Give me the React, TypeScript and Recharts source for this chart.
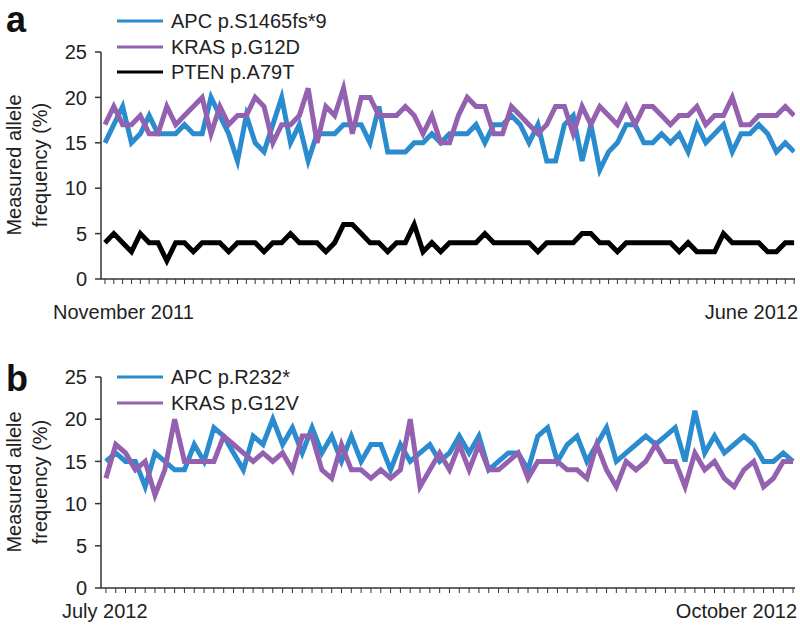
import React from 'react';
import { LineChart, Line, XAxis, YAxis } from 'recharts';

// ---- Panel a data (weekly measurements, Nov 2011 -> Jun 2012) ----
const apcA = [15,17,19,15,16,18,16,16,16,17,16,16,20,18,16,13,18,15,14,17,20,15,17,13,16,16,16,17,17,17,15,19,14,14,14,15,15,16,15,16,16,16,17,15,17,17,18,17,15,17,13,13,17,18,13,17,12,14,15,17,17,15,15,16,15,16,14,17,15,16,17,14,16,16,17,16,14,15,14];
const krasA = [17,19,17,17,18,16,16,19,17,18,19,20,16,19,17,18,18,20,19,15,17,17,18,21,15,19,18,21,16,20,20,18,18,18,19,18,16,18,15,15,18,20,19,19,16,16,19,18,17,16,17,19,19,16,19,17,19,18,17,19,17,19,19,18,17,18,18,19,17,18,18,20,17,17,18,18,18,19,18];
const ptenA = [4,5,4,3,5,4,4,2,4,4,3,4,4,4,3,4,4,4,3,4,4,5,4,4,4,3,4,6,6,5,4,4,3,4,4,6,3,4,3,4,4,4,4,5,4,4,4,4,4,3,4,4,4,4,5,5,4,4,3,4,4,4,4,4,4,3,4,3,3,3,5,4,4,4,4,3,3,4,4];

// ---- Panel b data (Jul 2012 -> Oct 2012) ----
const apcB = [15,16,15,15,12,16,15,14,14,17,15,19,18,16,14,18,17,20,17,19,16,19,16,18,15,18,15,17,17,14,17,15,16,17,15,16,18,16,18,14,15,16,16,14,18,19,15,17,18,15,17,19,15,16,17,18,17,18,19,15,21,16,18,16,17,18,17,15,15,16,15];
const krasB = [13,17,16,14,15,11,14,20,15,15,15,15,18,17,16,15,16,15,16,14,18,18,14,13,17,14,14,13,14,13,14,20,12,14,16,14,17,14,17,14,14,15,16,13,15,15,15,14,14,13,17,14,12,15,14,15,17,15,15,12,16,14,15,13,12,14,15,12,13,15,15];

const yTicks = [0, 5, 10, 15, 20, 25];
const xLabelsA = ['November 2011', 'June 2012'];
const xLabelsB = ['July 2012', 'October 2012'];
const yTitle = ['Measured allele', 'frequency (%)'];

const BLUE = '#2a8ccf';
const PURPLE = '#9461b0';
const BLACK = '#000000';
const AXIS = '#333333';
const FONT = '"Liberation Sans", Arial, Helvetica, sans-serif';

const seriesA = [
  { key: 'apc', name: 'APC p.S1465fs*9', color: BLUE },
  { key: 'kras', name: 'KRAS p.G12D', color: PURPLE },
  { key: 'pten', name: 'PTEN p.A79T', color: BLACK },
];
const seriesB = [
  { key: 'apc', name: 'APC p.R232*', color: BLUE },
  { key: 'kras', name: 'KRAS p.G12V', color: PURPLE },
];

const dataA = apcA.map((v, i) => ({ i, apc: v, kras: krasA[i], pten: ptenA[i] }));
const dataB = apcB.map((v, i) => ({ i, apc: v, kras: krasB[i] }));
const ticksA = dataA.map((d) => d.i);
const ticksB = dataB.map((d) => d.i);

function makeTick(labels: string[], lastIndex: number, dy: number, startShift: number, endShift: number) {
  return (props: any) => {
    const { x, y, payload } = props;
    if (payload.value === 0) {
      return (
        <text x={x + startShift} y={y + dy} textAnchor="start" fontSize={20} fill="#222" fontFamily={FONT}>
          {labels[0]}
        </text>
      );
    }
    if (payload.value === lastIndex) {
      return (
        <text x={x + endShift} y={y + dy} textAnchor="end" fontSize={20} fill="#222" fontFamily={FONT}>
          {labels[1]}
        </text>
      );
    }
    return <g />;
  };
}

function LegendBlock({ series, top }: { series: { key: string; name: string; color: string }[]; top: number }) {
  return (
    <>
      {series.map((s, k) => (
        <div
          key={s.key}
          style={{ position: 'absolute', left: 117, top: top + k * 25.5 - 12, height: 24, display: 'flex', alignItems: 'center' }}
        >
          <svg width={46} height={6} style={{ display: 'block' }}>
            <line x1={0} y1={3} x2={46} y2={3} stroke={s.color} strokeWidth={3} />
          </svg>
          <span style={{ marginLeft: 8, fontSize: 20, color: '#222', whiteSpace: 'nowrap', lineHeight: '24px' }}>{s.name}</span>
        </div>
      ))}
    </>
  );
}

function YTitle({ cy }: { cy: number }) {
  return (
    <div
      style={{
        position: 'absolute',
        left: 27,
        top: cy,
        transform: 'translate(-50%, -50%) rotate(-90deg)',
        fontSize: 20,
        lineHeight: '26px',
        textAlign: 'center',
        whiteSpace: 'nowrap',
        color: '#222',
      }}
    >
      {yTitle[0]}
      <br />
      {yTitle[1]}
    </div>
  );
}

export default function App() {
  return (
    <div style={{ position: 'absolute', left: 0, top: 0, width: 800, height: 631, background: '#fff', fontFamily: FONT, overflow: 'hidden' }}>
      {/* Panel a */}
      <div style={{ position: 'absolute', left: 0, top: 0 }}>
        <LineChart width={800} height={330} data={dataA} margin={{ top: 52, right: 5, bottom: 0, left: 0 }}>
          <XAxis
            type="number"
            dataKey="i"
            domain={[-0.45, 78.1]}
            ticks={ticksA}
            interval={0}
            height={51}
            tickSize={5}
            tickMargin={2}
            axisLine={{ stroke: AXIS, strokeWidth: 1.5 }}
            tickLine={{ stroke: AXIS, strokeWidth: 1 }}
            tick={makeTick(xLabelsA, 78, 33, -52, 4)}
            allowDataOverflow
          />
          <YAxis
            type="number"
            domain={[0, 25]}
            ticks={yTicks}
            width={101}
            tickSize={6}
            tickMargin={8}
            axisLine={{ stroke: AXIS, strokeWidth: 1.5 }}
            tickLine={{ stroke: AXIS, strokeWidth: 1.5 }}
            tick={{ fontSize: 20, fill: '#222', fontFamily: FONT }}
          />
          {seriesA.map((s) => (
            <Line key={s.key} dataKey={s.key} name={s.name} stroke={s.color} strokeWidth={5} dot={false} isAnimationActive={false} type="linear" />
          ))}
        </LineChart>
      </div>

      {/* Panel b */}
      <div style={{ position: 'absolute', left: 0, top: 330 }}>
        <LineChart width={800} height={301} data={dataB} margin={{ top: 47, right: 5, bottom: 0, left: 0 }}>
          <XAxis
            type="number"
            dataKey="i"
            domain={[-0.5, 70.2]}
            ticks={ticksB}
            interval={0}
            height={43}
            tickSize={5}
            tickMargin={2}
            axisLine={{ stroke: AXIS, strokeWidth: 1.5 }}
            tickLine={{ stroke: AXIS, strokeWidth: 1 }}
            tick={makeTick(xLabelsB, 70, 23, -44, 4)}
            allowDataOverflow
          />
          <YAxis
            type="number"
            domain={[0, 25]}
            ticks={yTicks}
            width={101}
            tickSize={6}
            tickMargin={8}
            axisLine={{ stroke: AXIS, strokeWidth: 1.5 }}
            tickLine={{ stroke: AXIS, strokeWidth: 1.5 }}
            tick={{ fontSize: 20, fill: '#222', fontFamily: FONT }}
          />
          {seriesB.map((s) => (
            <Line key={s.key} dataKey={s.key} name={s.name} stroke={s.color} strokeWidth={5} dot={false} isAnimationActive={false} type="linear" />
          ))}
        </LineChart>
      </div>

      {/* Panel letters */}
      <div style={{ position: 'absolute', left: 6, top: 2, fontSize: 36, fontWeight: 'bold', lineHeight: '36px', color: '#111' }}>a</div>
      <div style={{ position: 'absolute', left: 6, top: 361, fontSize: 36, fontWeight: 'bold', lineHeight: '36px', color: '#111' }}>b</div>

      {/* Legends */}
      <LegendBlock series={seriesA} top={21} />
      <LegendBlock series={seriesB} top={377} />

      {/* Y axis titles */}
      <YTitle cy={165} />
      <YTitle cy={482} />
    </div>
  );
}
